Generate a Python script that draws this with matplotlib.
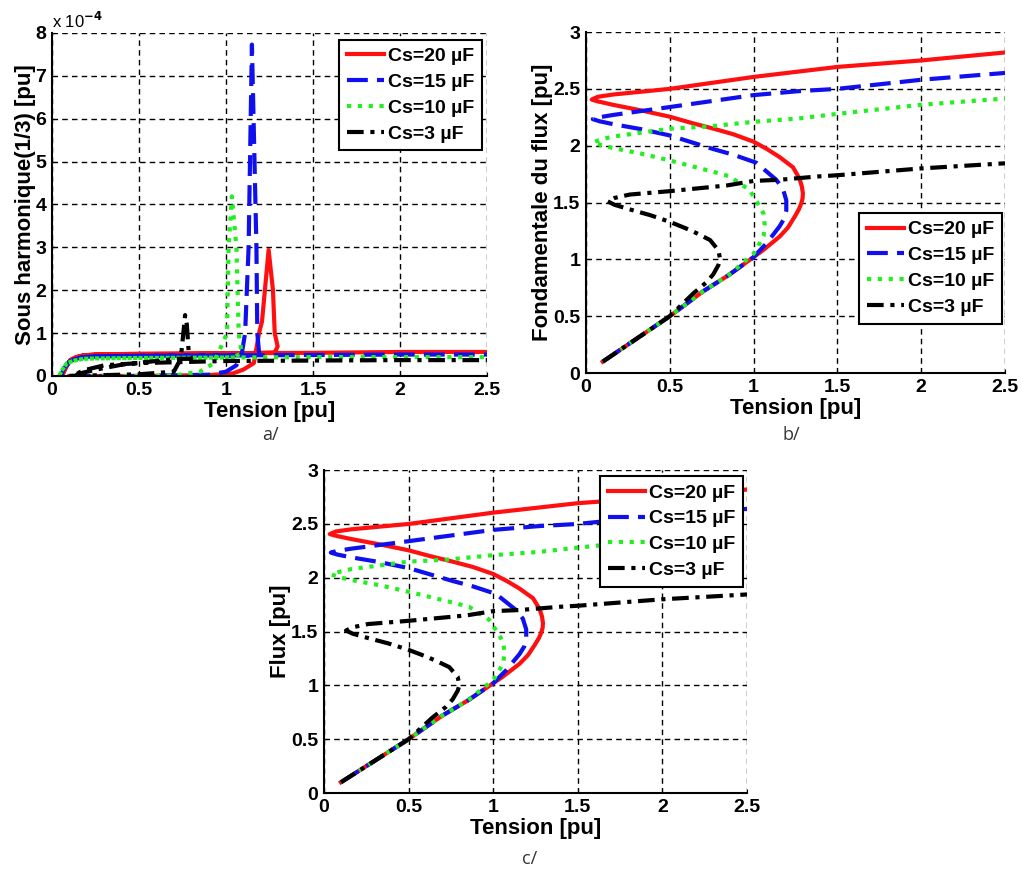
import matplotlib
matplotlib.use("Agg")
from matplotlib import pyplot as plt

plt.rcParams['font.family'] = ['Liberation Sans', 'DejaVu Sans']
plt.rcParams['font.weight'] = 'bold'

labels = ['Cs=20 µF', 'Cs=15 µF', 'Cs=10 µF', 'Cs=3 µF']

# --- a/ sous harmonique (1/3), values in 1e-4 pu
sub20_x = [0.10, 0.50, 0.90, 1.04, 1.10, 1.16, 1.17, 1.19, 1.207, 1.245, 1.27, 1.28, 1.297,
           1.28, 1.00, 0.50, 0.25, 0.18, 0.14, 0.105, 0.08, 0.057, 0.08, 0.105, 0.14, 0.18,
           0.25, 0.50, 1.00, 1.50, 2.00, 2.50]
sub20_y = [0.0, 0.0, 0.02, 0.06, 0.15, 0.30, 0.53, 1.00, 1.27, 2.94, 2.00, 1.00, 0.69,
           0.55, 0.52, 0.51, 0.50, 0.48, 0.44, 0.37, 0.20, 0.0, 0.20, 0.37, 0.44, 0.48,
           0.50, 0.52, 0.53, 0.54, 0.56, 0.56]
sub15_x = [0.10, 0.50, 0.90, 1.00, 1.06, 1.09, 1.11, 1.13, 1.149, 1.175, 1.18, 1.19,
           1.17, 1.00, 0.50, 0.25, 0.18, 0.13, 0.10, 0.07, 0.05, 0.07, 0.10, 0.13, 0.18,
           0.25, 0.50, 1.00, 1.50, 2.00, 2.50]
sub15_y = [0.0, 0.0, 0.03, 0.10, 0.25, 0.50, 1.00, 3.00, 7.73, 3.00, 1.00, 0.55,
           0.48, 0.48, 0.47, 0.46, 0.44, 0.39, 0.33, 0.18, 0.0, 0.18, 0.33, 0.39, 0.44,
           0.46, 0.47, 0.48, 0.49, 0.50, 0.50]
sub10_x = [0.10, 0.50, 0.70, 0.85, 0.93, 1.006, 1.015, 1.034, 1.06, 1.073, 1.09,
           1.05, 1.00, 0.50, 0.25, 0.18, 0.13, 0.086, 0.06, 0.04, 0.06, 0.086, 0.13, 0.18,
           0.25, 0.50, 1.00, 1.50, 2.00, 2.50]
sub10_y = [0.0, 0.0, 0.01, 0.10, 0.30, 1.00, 3.00, 4.19, 3.00, 1.00, 0.53,
           0.45, 0.43, 0.42, 0.41, 0.40, 0.36, 0.30, 0.15, 0.0, 0.15, 0.30, 0.36, 0.40,
           0.41, 0.42, 0.43, 0.44, 0.44, 0.44]
sub3_x = [0.10, 0.30, 0.50, 0.70, 0.74, 0.755, 0.765, 0.775, 0.785, 0.80, 0.72, 0.60, 0.41, 0.28,
          0.18, 0.125, 0.16, 0.20, 0.30, 0.50, 0.80, 1.00, 1.50, 2.00, 2.50]
sub3_y = [0.0, 0.02, 0.04, 0.10, 0.40, 1.00, 1.42, 1.20, 0.60, 0.40, 0.40, 0.35, 0.27, 0.17,
          0.08, 0.0, 0.09, 0.15, 0.25, 0.30, 0.33, 0.35, 0.36, 0.37, 0.37]

# --- b/ and c/ fondamentale du flux
flux20_x = [0.10, 0.30, 0.50, 0.70, 0.85, 1.00, 1.056, 1.155, 1.205, 1.245, 1.270, 1.284, 1.292,
            1.294, 1.288, 1.274, 1.235, 1.155, 1.08, 1.00, 0.88, 0.76, 0.63, 0.50, 0.33, 0.16,
            0.07, 0.034, 0.07, 0.16, 0.50, 1.00, 1.50, 2.00, 2.50]
flux20_y = [0.10, 0.30, 0.50, 0.72, 0.86, 1.02, 1.08, 1.20, 1.28, 1.375, 1.44, 1.49, 1.535,
            1.58, 1.64, 1.71, 1.81, 1.90, 1.97, 2.035, 2.10, 2.15, 2.20, 2.255, 2.31, 2.36,
            2.39, 2.406, 2.43, 2.45, 2.50, 2.605, 2.693, 2.75, 2.82]
flux15_x = [0.10, 0.30, 0.50, 0.70, 0.85, 1.00, 1.076, 1.155, 1.183, 1.195, 1.195, 1.175, 1.135,
            1.016, 0.88, 0.76, 0.63, 0.50, 0.33, 0.16, 0.08, 0.04, 0.08, 0.16, 0.50, 1.00,
            1.27, 1.50, 2.00, 2.50]
flux15_y = [0.10, 0.30, 0.50, 0.72, 0.86, 1.02, 1.14, 1.29, 1.36, 1.43, 1.52, 1.62, 1.70,
            1.85, 1.92, 1.97, 2.03, 2.09, 2.145, 2.19, 2.215, 2.234, 2.25, 2.27, 2.34, 2.445,
            2.48, 2.50, 2.58, 2.64]
flux10_x = [0.10, 0.30, 0.50, 0.70, 0.85, 1.00, 1.036, 1.06, 1.066, 1.06, 1.026, 0.976, 0.857,
            0.76, 0.63, 0.50, 0.33, 0.16, 0.09, 0.044, 0.09, 0.16, 0.50, 0.74, 1.00, 1.27,
            1.50, 2.00, 2.50]
flux10_y = [0.10, 0.30, 0.50, 0.72, 0.86, 1.05, 1.14, 1.21, 1.30, 1.40, 1.49, 1.61, 1.73,
            1.77, 1.82, 1.87, 1.93, 1.98, 2.005, 2.03, 2.055, 2.08, 2.15, 2.17, 2.21, 2.24,
            2.28, 2.36, 2.415]
flux3_x = [0.10, 0.30, 0.50, 0.64, 0.72, 0.76, 0.79, 0.80, 0.79, 0.74, 0.66, 0.60, 0.50, 0.38,
           0.26, 0.17, 0.13, 0.17, 0.26, 0.50, 0.84, 1.00, 1.155, 1.39, 1.50, 2.00, 2.50]
flux3_y = [0.10, 0.30, 0.50, 0.70, 0.80, 0.87, 0.95, 1.00, 1.08, 1.17, 1.23, 1.27, 1.33, 1.39,
           1.44, 1.48, 1.51, 1.54, 1.57, 1.60, 1.65, 1.69, 1.70, 1.73, 1.74, 1.80, 1.845]

styles = [dict(color='#ff1010', linestyle='-'),
          dict(color='#1010ee', dashes=(5, 2.2)),
          dict(color='#22ee22', dashes=(1, 1.6)),
          dict(color='black', dashes=(4, 1.6, 1, 1.6))]


def draw(ax, series, ylim, yticks, ylabel, legend_anchor):
    for (xs, ys), lab, st in zip(series, labels, styles):
        ax.plot(xs, ys, linewidth=3, label=lab, **st)
    ax.set_xlim(0, 2.5)
    ax.set_ylim(*ylim)
    ax.set_xticks([0, 0.5, 1, 1.5, 2, 2.5])
    ax.set_xticklabels(['0', '0.5', '1', '1.5', '2', '2.5'])
    ax.set_yticks(yticks)
    ax.set_yticklabels([('%g' % t) for t in yticks])
    ax.grid(True, color='black', linestyle=(0, (4, 3)), linewidth=1)
    for s in ['top', 'right']:
        ax.spines[s].set_visible(False)
    for s in ['left', 'bottom']:
        ax.spines[s].set_linewidth(1.5)
    ax.tick_params(direction='in', length=3, labelsize=14, pad=4)
    for lab in ax.get_xticklabels() + ax.get_yticklabels():
        lab.set_fontweight('bold')
    ax.set_xlabel('Tension [pu]', fontsize=16, fontweight='bold', labelpad=2)
    ax.set_ylabel(ylabel, fontsize=16, fontweight='bold', labelpad=0)
    leg = ax.legend(loc='upper right', bbox_to_anchor=legend_anchor, fontsize=14,
                    fancybox=False, edgecolor='black', framealpha=1,
                    handlelength=1.9, handletextpad=0.2, borderpad=0.4,
                    labelspacing=0.42, borderaxespad=0)
    leg.get_frame().set_linewidth(1.5)
    for t in leg.get_texts():
        t.set_fontweight('bold')


fig = plt.figure(figsize=(10.27, 8.75), dpi=100)

ax_a = fig.add_axes([0.0506, 0.5703, 0.4236, 0.3920])
draw(ax_a, [(sub20_x, sub20_y), (sub15_x, sub15_y), (sub10_x, sub10_y), (sub3_x, sub3_y)],
     (0, 8), [0, 1, 2, 3, 4, 5, 6, 7, 8], 'Sous harmonique(1/3) [pu]', (0.989, 0.98))
ax_a.text(0.0, 1.005, 'x 10$^{-4}$', transform=ax_a.transAxes, fontsize=12,
          fontweight='normal', va='bottom', ha='left')

ax_b = fig.add_axes([0.5706, 0.5737, 0.4080, 0.3897])
draw(ax_b, [(flux20_x, flux20_y), (flux15_x, flux15_y), (flux10_x, flux10_y), (flux3_x, flux3_y)],
     (0, 3), [0, 0.5, 1, 1.5, 2, 2.5, 3], 'Fondamentale du flux [pu]', (0.993, 0.469))

ax_c = fig.add_axes([0.3155, 0.0937, 0.4119, 0.3690])
draw(ax_c, [(flux20_x, flux20_y), (flux15_x, flux15_y), (flux10_x, flux10_y), (flux3_x, flux3_y)],
     (0, 3), [0, 0.5, 1, 1.5, 2, 2.5, 3], 'Flux [pu]', (0.99, 0.981))

for x, y, s in [(0.255, 0.497, 'a/'), (0.762, 0.497, 'b/'), (0.508, 0.012, 'c/')]:
    fig.text(x, y, s, fontsize=13, fontweight='normal', color='#333333',
             family=['Open Sans', 'DejaVu Sans'])

fig.savefig('out.png', dpi=100)
